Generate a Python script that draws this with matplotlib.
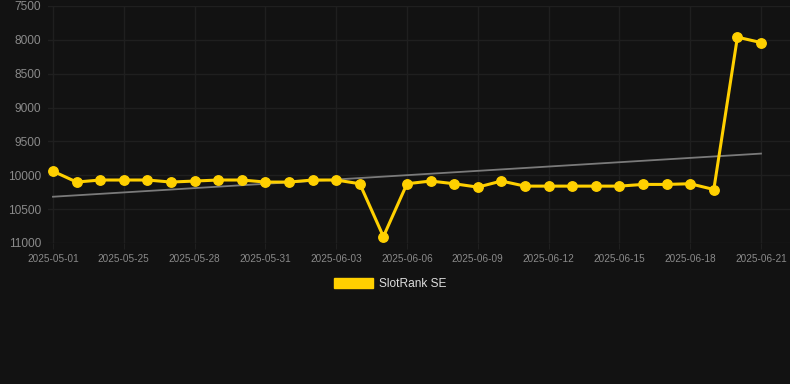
import numpy as np
import matplotlib
matplotlib.use("Agg")
import matplotlib.pyplot as plt
from matplotlib.patches import Patch

dates = ["2025-05-01", "2025-05-23", "2025-05-24", "2025-05-25", "2025-05-26", "2025-05-27",
         "2025-05-28", "2025-05-29", "2025-05-30", "2025-05-31", "2025-06-01", "2025-06-02",
         "2025-06-03", "2025-06-04", "2025-06-05", "2025-06-06", "2025-06-07", "2025-06-08",
         "2025-06-09", "2025-06-10", "2025-06-11", "2025-06-12", "2025-06-13", "2025-06-14",
         "2025-06-15", "2025-06-16", "2025-06-17", "2025-06-18", "2025-06-19", "2025-06-20",
         "2025-06-21"]
ranks = [9940, 10100, 10070, 10070, 10070, 10100, 10085, 10070, 10070, 10100, 10100, 10070,
         10070, 10125, 10905, 10125, 10085, 10125, 10175, 10085, 10160, 10160, 10160, 10160,
         10160, 10135, 10135, 10125, 10210, 7960, 8040]
series_name = "SlotRank SE"
yticks = [7500, 8000, 8500, 9000, 9500, 10000, 10500, 11000]

plt.rcParams['font.family'] = ['Liberation Sans', 'DejaVu Sans']
bg = "#121212"
W, H = 790, 384
fig = plt.figure(figsize=(W / 100, H / 100), dpi=100, facecolor=bg)
left, right, top, bottom = 48, 790, 6, 243
ax = fig.add_axes([left / W, 1 - bottom / H, (right - left) / W, (bottom - top) / H], facecolor=bg)

x = np.arange(len(ranks))
coef = np.polyfit(x, ranks, 1)
ax.plot(x, np.polyval(coef, x), color="#7a7a7a", lw=1.3, zorder=2)
ax.plot(x, ranks, color="#FFD000", lw=2.2, marker="o", ms=6.8, zorder=3)

ax.set_ylim(11000, 7500)
px_per = (761 - 53) / 30
ax.set_xlim(0 - (53 - left) / px_per, 30 + (right - 761) / px_per)
ax.set_yticks(yticks)
ax.set_yticklabels([str(v) for v in yticks], color="#8a8a8a", fontsize=8.6)
tick_idx = list(range(0, len(dates), 3))
ax.set_xticks(tick_idx)
ax.set_xticklabels([dates[i] for i in tick_idx], color="#8a8a8a", fontsize=7.2)
ax.grid(True, color="#1f1f1f", lw=1.0)
ax.set_axisbelow(True)
for s in ax.spines.values():
    s.set_visible(False)
ax.tick_params(axis="y", length=0, pad=5)
ax.tick_params(axis="x", length=4, color="#1f1f1f", pad=4)

handle = Patch(facecolor="#FFD000", edgecolor="#FFD000")
fig.legend([handle], [series_name], loc="center", bbox_to_anchor=(390 / W, 1 - 284 / H),
           frameon=False, fontsize=8.6, labelcolor="#dddddd", handlelength=3.3,
           handleheight=0.9, handletextpad=0.5)

fig.savefig("out.png", dpi=100, facecolor=bg)
